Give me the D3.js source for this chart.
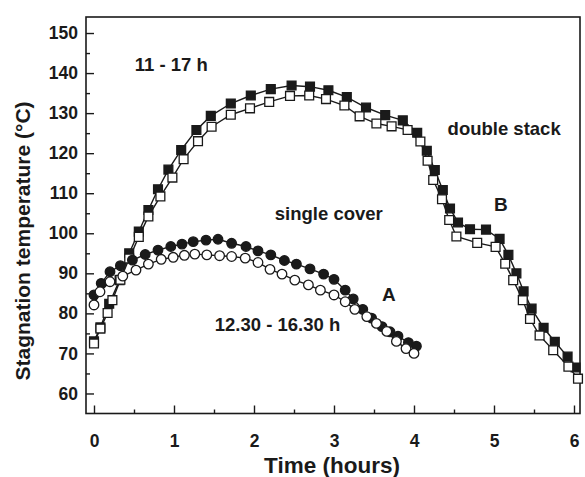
<!DOCTYPE html>
<html><head><meta charset="utf-8">
<script src="https://cdn.jsdelivr.net/npm/d3@7"></script>
<style>body{margin:0;background:#fff}svg{display:block}text{font-family:"Liberation Sans",Arial,sans-serif;font-weight:bold;fill:#1a1a1a}</style>
</head><body><svg id="c" width="585" height="477"></svg>
<script>
// ---- data (time in hours, stagnation temperature in °C) ----
const sqFilledT = [0.0,0.08,0.19,0.32,0.44,0.56,0.68,0.8,0.93,1.09,1.28,1.46,1.71,1.96,2.21,2.47,2.7,2.93,3.16,3.4,3.64,3.86,4.04,4.16,4.26,4.36,4.45,4.55,4.7,4.9,5.07,5.18,5.28,5.37,5.47,5.62,5.76,5.92,6.02];
const sqFilledV = [73.0,76.5,82.4,88.3,95.0,100.4,105.8,111.0,115.9,120.8,125.8,129.3,132.4,134.4,136.0,136.9,136.6,135.7,134.0,131.4,129.5,128.2,125.1,120.6,115.8,110.8,106.2,102.7,101.0,100.9,98.6,94.6,90.0,85.5,81.2,76.4,72.9,69.2,66.5];
const sqOpenT = [0.0,0.08,0.17,0.23,0.33,0.44,0.56,0.68,0.83,0.98,1.12,1.3,1.47,1.71,1.95,2.19,2.45,2.69,2.9,3.13,3.32,3.53,3.72,3.92,4.08,4.17,4.24,4.35,4.44,4.53,4.79,5.02,5.14,5.24,5.36,5.45,5.57,5.74,5.93,6.05];
const sqOpenV = [72.5,76.2,80.1,83.3,88.4,93.7,99.1,104.2,109.2,113.9,118.5,123.0,126.6,129.6,131.2,132.8,134.3,134.4,133.5,131.9,129.2,127.4,126.7,125.8,122.9,118.1,113.3,108.5,103.3,99.2,97.6,96.6,92.4,88.3,83.3,78.6,74.5,70.8,66.7,63.7];
const ciFilledT = [0.0,0.09,0.2,0.33,0.48,0.64,0.8,0.96,1.1,1.24,1.4,1.55,1.72,1.9,2.05,2.21,2.38,2.53,2.7,2.87,3.0,3.14,3.24,3.36,3.47,3.6,3.7,3.8,3.93,4.03];
const ciFilledV = [84.6,87.5,90.4,91.9,93.3,94.7,95.8,96.7,97.3,97.9,98.3,98.5,97.5,96.7,95.6,94.6,93.2,92.3,91.1,89.8,88.5,85.8,83.6,81.0,78.8,76.7,75.4,74.3,72.7,71.8];
const ciOpenT = [0.0,0.075,0.2,0.36,0.525,0.68,0.84,0.99,1.13,1.26,1.41,1.57,1.72,1.89,2.05,2.2,2.35,2.51,2.68,2.83,3.0,3.14,3.26,3.41,3.53,3.66,3.78,3.9,4.0];
const ciOpenV = [82.1,85.4,87.9,89.3,90.8,92.3,93.5,94.0,94.5,94.8,94.6,94.4,94.2,93.8,92.7,91.0,89.8,88.3,87.1,85.8,84.6,82.9,81.0,79.2,77.5,75.5,73.0,71.2,70.0];
const xTicks = [0,1,2,3,4,5,6];
const xMinor = [0.5,1.5,2.5,3.5,4.5,5.5];
const yTicks = [60,70,80,90,100,110,120,130,140,150];
const yMinor = [65,75,85,95,105,115,125,135,145];
const xTitle = "Time (hours)";
const yTitle = "Stagnation temperature (°C)";
const notes = [
  {t:"11 - 17 h", x:0.51, v:140.5},
  {t:"double stack", x:4.42, v:124.5},
  {t:"B", x:5.0, v:105.5},
  {t:"single cover", x:2.26, v:103.2},
  {t:"A", x:3.6, v:83.2},
  {t:"12.30 - 16.30 h", x:1.51, v:75.7}
];

// ---- chart ----
const svg = d3.select("#c");
const L=86, R=580, T=17, B=413.5;
const x = d3.scaleLinear().domain([-0.1, 6.075]).range([L, R]);
const y = d3.scaleLinear().domain([55, 154]).range([B, T]);
const ink = "#1a1a1a";

// minor ticks
svg.append("g").attr("transform",`translate(0,${B})`)
  .call(d3.axisBottom(x).tickValues(xMinor).tickSize(-4).tickFormat(""))
  .call(g=>g.select(".domain").remove());
svg.append("g").attr("transform",`translate(${L},0)`)
  .call(d3.axisLeft(y).tickValues(yMinor).tickSize(-4).tickFormat(""))
  .call(g=>g.select(".domain").remove());
// major ticks
const gx = svg.append("g").attr("transform",`translate(0,${B})`)
  .call(d3.axisBottom(x).tickValues(xTicks).tickSizeInner(-8).tickSizeOuter(0).tickPadding(21).tickFormat(d3.format("d")))
  .call(g=>g.select(".domain").remove());
const gy = svg.append("g").attr("transform",`translate(${L},0)`)
  .call(d3.axisLeft(y).tickValues(yTicks).tickSizeInner(-8).tickSizeOuter(0).tickPadding(8).tickFormat(d3.format("d")))
  .call(g=>g.select(".domain").remove());
svg.selectAll(".tick line").attr("stroke",ink).attr("stroke-width",1.4);
svg.selectAll(".tick text").attr("font-size",17.5).attr("font-weight","bold")
  .attr("font-family","Liberation Sans, Arial, sans-serif").attr("fill",ink);

// frame
svg.append("rect").attr("x",L).attr("y",T).attr("width",R-L).attr("height",B-T)
  .attr("fill","none").attr("stroke",ink).attr("stroke-width",1.6);

// titles
svg.append("text").attr("x",(L+R)/2 - 1).attr("y",473).attr("text-anchor","middle")
  .attr("font-size",22.5).text(xTitle);
svg.append("text").attr("transform","translate(30,241) rotate(-90)").attr("text-anchor","middle")
  .attr("font-size",21).text(yTitle);

// annotations
svg.append("g").selectAll("text").data(notes).join("text")
  .attr("x",d=>x(d.x)).attr("y",d=>y(d.v)).attr("font-size",d=>d.t.length===1?19:18.5)
  .text(d=>d.t);

// series
const series = [
  {T:sqFilledT, V:sqFilledV, sym:d3.symbolSquare, size:78, fill:ink},
  {T:sqOpenT, V:sqOpenV, sym:d3.symbolSquare, size:78, fill:"#fff"},
  {T:ciFilledT, V:ciFilledV, sym:d3.symbolCircle, size:72, fill:ink},
  {T:ciOpenT, V:ciOpenV, sym:d3.symbolCircle, size:72, fill:"#fff"}
];
const line = d3.line().x(d=>x(d[0])).y(d=>y(d[1]));
series.forEach(s=>{
  const pts = s.T.map((t,i)=>[t,s.V[i]]);
  svg.append("path").datum(pts).attr("d",line).attr("fill","none")
    .attr("stroke",ink).attr("stroke-width",1.4);
});
series.forEach(s=>{
  const pts = s.T.map((t,i)=>[t,s.V[i]]);
  svg.append("g").selectAll("path").data(pts).join("path")
    .attr("transform",d=>`translate(${x(d[0])},${y(d[1])})`)
    .attr("d",d3.symbol().type(s.sym).size(s.size))
    .attr("fill",s.fill).attr("stroke",ink).attr("stroke-width",1.3);
});
</script></body></html>
